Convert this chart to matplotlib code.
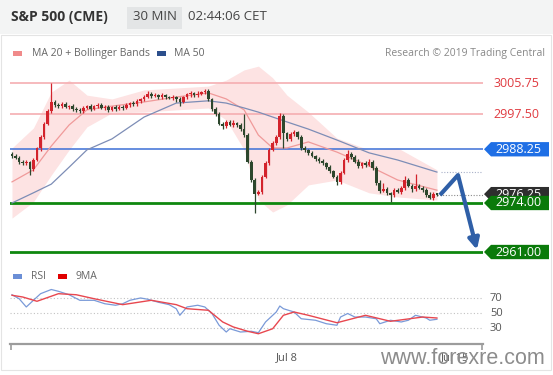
import matplotlib
matplotlib.use("Agg")
import matplotlib.pyplot as plt
import matplotlib.transforms as mtransforms
from matplotlib.patches import Rectangle, Polygon
import numpy as np

plt.rcParams['font.family'] = ['Open Sans', 'DejaVu Sans']

# --- 30 min candles (price) ---
OPEN0 = 2987.0
CLOSE = [
    2986.5, 2986.0, 2985.0, 2984.5, 2984.8, 2983.0, 2985.5, 2988.5, 2991.5, 2995.0,
    2998.5, 3000.8, 3000.0, 2999.6, 3000.2, 2999.4, 2999.8, 2999.0, 2998.6, 2998.4,
    2999.3, 2999.6, 2999.0, 2999.8, 3000.1, 2999.2, 2999.5, 2998.7, 2999.4, 2998.9,
    2999.5, 2999.2, 3000.0, 3000.5, 3000.2, 3001.0, 3001.6, 3002.2, 3003.0, 3002.4,
    3002.7, 3002.2, 3002.6, 3002.0, 3001.8, 3002.1, 3001.5, 3000.8, 3002.0, 3002.8,
    3003.1, 3002.6, 3003.0, 3003.4, 3003.7, 3001.5, 2999.0, 2997.5, 2995.0, 2994.3,
    2995.5, 2994.8, 2995.3, 2994.6, 2993.5, 2992.0, 2985.0, 2980.0, 2976.5, 2977.0,
    2981.0, 2984.5, 2988.0, 2990.0, 2991.5, 2997.2, 2992.5, 2991.0, 2992.2, 2992.8,
    2991.6, 2988.6, 2988.0, 2987.2, 2986.4, 2985.8, 2985.2, 2984.6, 2983.6, 2982.4,
    2981.0, 2979.5, 2982.0, 2985.4, 2987.0, 2986.2, 2985.0, 2983.8, 2984.6, 2984.2,
    2985.0, 2983.2, 2979.4, 2977.2, 2977.8, 2976.6, 2976.0, 2977.4, 2977.0, 2978.0,
    2980.2, 2978.6, 2977.6, 2978.6, 2978.0, 2977.4, 2976.2, 2975.4, 2976.4, 2976.25]
WICK_UP = [
    0.4, 0.6, 0.5, 0.3, 0.6, 0.4, 0.5, 0.3, 0.6, 0.4,
    0.5, 5.0, 0.6, 0.4, 0.5, 0.6, 0.3, 0.5, 0.4, 0.6,
    0.5, 0.4, 0.6, 0.3, 0.5, 0.4, 0.6, 0.5, 0.3, 0.5,
    0.4, 0.6, 0.5, 0.4, 0.6, 0.5, 0.3, 0.5, 0.6, 0.4,
    0.5, 0.3, 0.6, 0.4, 0.5, 0.5, 0.4, 0.6, 0.5, 0.3,
    0.5, 0.4, 0.6, 0.3, 0.5, 0.6, 0.4, 0.5, 0.6, 0.4,
    0.5, 0.4, 0.6, 0.3, 0.5, 4.0, 0.5, 0.4, 0.6, 0.5,
    0.4, 0.6, 0.5, 0.4, 0.5, 0.8, 0.5, 0.4, 0.6, 0.5,
    0.4, 0.5, 0.6, 0.4, 0.5, 0.3, 0.5, 0.6, 0.4, 0.5,
    0.4, 0.5, 0.6, 0.5, 1.0, 0.4, 0.5, 0.6, 0.4, 0.5,
    0.6, 0.4, 0.5, 0.6, 1.5, 0.5, 0.3, 0.5, 0.6, 0.4,
    1.0, 0.5, 0.4, 3.0, 0.5, 0.4, 0.5, 0.6, 0.4, 0.3]
WICK_DN = [
    0.5, 0.4, 0.6, 0.5, 0.3, 1.5, 0.5, 0.4, 0.6, 0.5,
    0.4, 0.5, 0.6, 0.4, 0.5, 0.3, 0.6, 0.5, 0.4, 0.5,
    0.6, 0.4, 0.5, 0.3, 0.6, 0.4, 0.5, 0.6, 0.4, 0.5,
    0.3, 0.5, 0.4, 0.6, 0.5, 0.4, 0.6, 0.5, 0.3, 0.5,
    0.4, 0.6, 0.5, 0.4, 0.3, 0.5, 0.6, 1.0, 0.4, 0.5,
    0.6, 0.4, 0.5, 0.3, 0.5, 0.4, 0.6, 0.5, 0.4, 0.6,
    0.5, 0.3, 0.6, 0.4, 0.5, 0.6, 0.5, 0.4, 5.2, 0.5,
    0.6, 0.4, 0.5, 0.3, 0.6, 0.5, 4.0, 0.5, 0.6, 0.4,
    0.5, 0.6, 0.4, 0.5, 0.3, 0.6, 0.5, 0.4, 0.6, 0.5,
    0.4, 0.6, 0.5, 0.4, 0.5, 0.6, 0.3, 0.5, 0.4, 0.6,
    0.5, 0.4, 0.6, 0.5, 0.4, 0.6, 1.7, 0.5, 0.4, 0.6,
    0.5, 0.4, 0.6, 0.5, 0.4, 0.6, 0.5, 0.4, 0.6, 0.5]

# indicators, sampled at candle indices
MA_IDX = [0, 6, 11, 16, 21, 28, 37, 46, 55, 60, 65, 69, 73, 77, 83, 91, 100, 108, 119]
MA50 = [2974.0, 2976.7, 2979.0, 2983.5, 2988.1, 2991.0, 2996.8, 3000.5, 3001.1, 3000.5,
        2999.2, 2998.1, 2996.8, 2995.5, 2993.6, 2990.7, 2987.3, 2985.4, 2982.2]
MA20 = [2979.6, 2982.8, 2989.1, 2994.7, 2998.7, 2999.7, 3000.8, 3002.1, 3003.2, 3001.6,
        2998.7, 2992.0, 2988.6, 2988.6, 2990.2, 2987.5, 2983.8, 2980.1, 2977.4]
BB_UP = [2988.6, 2993.9, 3003.4, 3006.6, 3002.6, 3001.6, 3004.0, 3004.5, 3005.0, 3006.6,
         3009.3, 3010.3, 3007.2, 3002.6, 2998.1, 2991.2, 2988.1, 2988.6, 2982.8]
BB_LO = [2970.0, 2974.3, 2981.4, 2988.1, 2994.2, 2997.9, 2998.1, 2998.7, 2999.2, 2996.0,
         2988.1, 2974.8, 2971.6, 2973.5, 2978.8, 2980.1, 2976.7, 2975.6, 2974.8]

RSI_IDX = [0, 2, 4, 6, 8, 11, 13, 16, 19, 23, 26, 29, 31, 33, 36, 38, 41, 44, 46, 47,
           49, 52, 54, 56, 58, 60, 61, 64, 67, 69, 71, 74, 75, 76, 79, 81, 85, 88, 91, 92,
           94, 96, 99, 102, 103, 106, 109, 111, 113, 116, 117, 119]
RSI = [75, 69.7, 58.7, 67.6, 76.4, 82, 79.6, 75, 67.6, 67.6, 63, 61, 63, 67.6, 70.7, 69,
       65, 61.8, 56.4, 47.6, 58.7, 61, 58.7, 50, 34.3, 25.3, 29.7, 25.3, 26.3, 24.4, 38.7,
       52, 60, 56.4, 52, 43, 41, 36.4, 34.3, 45.3, 50, 45.3, 45.3, 43, 36.4, 41, 38.7, 41,
       47.6, 44, 41, 42.3]
MA9_IDX = [0, 3, 7, 13, 18, 23, 31, 39, 46, 49, 55, 59, 62, 66, 69, 73, 76, 79, 83, 91,
           99, 106, 115, 119]
MA9 = [74.3, 72, 66.3, 76.4, 75, 69.7, 61.8, 67.6, 61.8, 56.4, 54.3, 38.7, 32, 26.3, 23,
       29.7, 47.6, 52, 47.6, 37.7, 47.6, 39.6, 45.3, 44]
RSI_LEVELS = [70, 50, 30]

# key levels
RES_LEVELS = [3005.75, 2997.50]
PIVOT = 2988.25
SUP_LEVELS = [2974.00, 2961.00]
LAST = 2976.25
# forecast path (candle index, price)
FC_X = [119.85, 124.9, 130.2]
FC_P = [2976.1, 2981.4, 2961.6]

DATE_POS = [77, 124]
DATE_LBL = ["Jul 8", "Jul 15"]

W, H = 553, 375
XL = (-0.56, 131.9)


def fx(x):
    return x / W


def fy(y):
    return 1 - y / H


fig = plt.figure(figsize=(W / 100, H / 100), dpi=100)
fig.patches.append(Rectangle((0, fy(34)), 1, 34 / H, transform=fig.transFigure,
                             facecolor='#f3f4f4', edgecolor='none', zorder=0))
fig.patches.append(Rectangle((fx(1), fy(370)), 550 / W, 335 / H, transform=fig.transFigure,
                             fill=False, edgecolor='#e4e4e4', lw=0.8, zorder=0))
fig.patches.append(Rectangle((fx(127), fy(29)), 55 / W, 22 / H, transform=fig.transFigure,
                             facecolor='#e3e5e6', edgecolor='none', zorder=1))
fig.text(fx(11), fy(17), "S&P 500 (CME)", fontsize=10, fontweight='bold', color='#333333', va='center')
fig.text(fx(154.5), fy(17), "30 MIN", fontsize=9.5, color='#444444', va='center', ha='center')
fig.text(fx(188), fy(17), "02:44:06 CET", fontsize=9.5, color='#444444', va='center')

# legend rows
for (x, y, c) in [(13, 51, '#f08a8a'), (157, 51, '#2c4f8c'), (13, 274, '#6b8fd6'), (58, 274, '#e00000')]:
    fig.patches.append(Rectangle((fx(x), fy(y + 5)), 9 / W, 5 / H, transform=fig.transFigure,
                                 facecolor=c, edgecolor='none'))
fig.text(fx(32), fy(53.5), "MA 20 + Bollinger Bands", fontsize=7.5, color='#666666', va='center')
fig.text(fx(174), fy(53.5), "MA 50", fontsize=7.5, color='#666666', va='center')
fig.text(fx(545), fy(53.5), "Research © 2019 Trading Central", fontsize=7.5, color='#888888',
         va='center', ha='right')
fig.text(fx(31), fy(276.5), "RSI", fontsize=7.5, color='#666666', va='center')
fig.text(fx(76), fy(276.5), "9MA", fontsize=7.5, color='#666666', va='center')

# --- main price panel ---
ax = fig.add_axes([fx(10), fy(262), fx(483) - fx(10), fy(65) - fy(262)])
ax.axis('off')

idx = np.arange(len(CLOSE))
closes = np.array(CLOSE)
opens = np.r_[OPEN0, closes[:-1]]
highs = np.maximum(opens, closes) + np.array(WICK_UP)
lows = np.minimum(opens, closes) - np.array(WICK_DN)
cols = np.where(closes >= opens, '#d3232c', '#2d472d')

ax.fill_between(MA_IDX, BB_LO, BB_UP, color='#fde3e3', lw=0, zorder=1)
ax.plot(MA_IDX, MA20, color='#f09a9a', lw=0.9, zorder=2)
ax.plot(MA_IDX, MA50, color='#7d8db6', lw=0.9, zorder=2)

for lv in RES_LEVELS:
    ax.axhline(lv, color='#f5aeb1', lw=1.2, zorder=1.5)
ax.axhline(PIVOT, color='#3c6fd6', lw=1.1, zorder=1.5)
for lv in SUP_LEVELS:
    ax.axhline(lv, color='#0e870e', lw=2.0, zorder=1.5)

ax.vlines(idx, lows, highs, colors=cols, lw=0.9, zorder=3)
ax.bar(idx, np.maximum(np.abs(closes - opens), 0.3), bottom=np.minimum(opens, closes),
       width=0.74, color=cols, lw=0, zorder=4)

ax.plot([idx[-1], XL[1]], [LAST, LAST], color='#8a8a8a', lw=0.8, ls=(0, (1, 1.5)), zorder=2)
ax.plot([MA_IDX[-1] + 1, XL[1]], [MA50[-1], MA50[-1]], color='#a8b0c8', lw=0.8,
        ls=(0, (1, 1.5)), zorder=2)

ax.plot(FC_X[:2], FC_P[:2], color='#2f5fa7', lw=3, solid_capstyle='butt', zorder=5)
ax.annotate('', xy=(FC_X[2], FC_P[2]), xytext=(FC_X[1], FC_P[1]),
            arrowprops=dict(arrowstyle='-|>', color='#2f5fa7', lw=3, mutation_scale=16,
                            shrinkA=0, shrinkB=0), zorder=5, annotation_clip=False)
ax.set_xlim(*XL)
ax.set_ylim(2958.35, 3010.6)

trans = mtransforms.blended_transform_factory(fig.transFigure, ax.transData)


def tag(price, text, face, z, h=1.9):
    pts = [(fx(484), price), (fx(491), price + h), (fx(549), price + h),
           (fx(549), price - h), (fx(491), price - h)]
    fig.add_artist(Polygon(pts, closed=True, transform=trans, facecolor=face,
                           edgecolor='none', zorder=z))
    fig.text(fx(518), price, text, transform=trans, color='white', fontsize=9,
             ha='center', va='center', zorder=z + 0.5)


for lv in RES_LEVELS:
    fig.text(fx(516), lv, f"{lv:.2f}", transform=trans, color='#e03a40', fontsize=9,
             ha='center', va='center')
tag(PIVOT, f"{PIVOT:.2f}", '#1f6fe5', 10)
tag(LAST + 0.1, f"{LAST:.2f}", '#2e2e2e', 11)
tag(SUP_LEVELS[0], f"{SUP_LEVELS[0]:.2f}", '#0a7a0a', 12)
tag(SUP_LEVELS[1], f"{SUP_LEVELS[1]:.2f}", '#0a7a0a', 13)

# --- RSI panel ---
r = fig.add_axes([fx(10), fy(344), fx(483) - fx(10), fy(285) - fy(344)])
for s in ('top', 'left', 'right'):
    r.spines[s].set_visible(False)
r.spines['bottom'].set_color('#9c9c9c')
r.spines['bottom'].set_linewidth(1.6)
r.set_yticks([])
for lv in RSI_LEVELS:
    r.axhline(lv, color='#c2c2c2', lw=0.8, ls=(0, (1, 2)))
r.plot(RSI_IDX, RSI, color='#7a9ad8', lw=0.9)
r.plot(MA9_IDX, MA9, color='#e8474f', lw=1.0)
r.set_xlim(*XL)
r.set_ylim(9.33, 88)
r.set_xticks(DATE_POS)
r.set_xticklabels(DATE_LBL)
r.tick_params(axis='x', length=0, labelsize=8, labelcolor='#555555', pad=6)
r.set_xticks([XL[0] + 0.15, XL[1] - 0.15], minor=True)
r.tick_params(axis='x', which='minor', length=4, width=1.2, color='#9c9c9c')
rtrans = mtransforms.blended_transform_factory(fig.transFigure, r.transData)
for lv in RSI_LEVELS:
    fig.text(fx(490), lv, str(lv), transform=rtrans, fontsize=8, color='#555555', va='center')

fig.text(fx(462), fy(358), "www.forexre.com", fontsize=15.5, color='#8c8c8c',
         family='Liberation Sans', ha='center', va='center', zorder=20)

fig.savefig("out.png", dpi=100)
